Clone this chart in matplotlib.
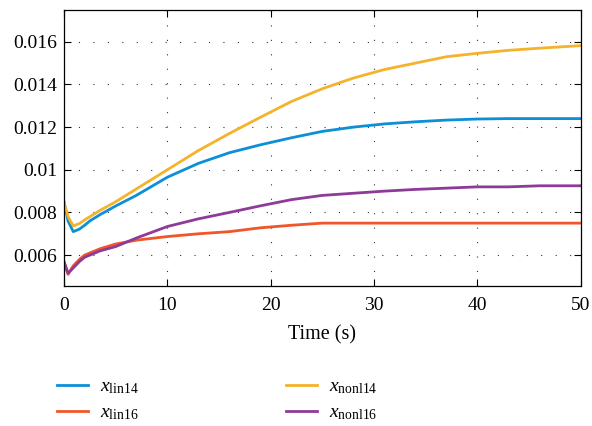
import matplotlib
matplotlib.use('Agg')
import matplotlib.pyplot as plt

plt.rcParams['font.family'] = ['Liberation Serif', 'DejaVu Serif']
plt.rcParams['mathtext.fontset'] = 'custom'
plt.rcParams['mathtext.rm'] = 'Liberation Serif'
plt.rcParams['mathtext.it'] = 'Liberation Serif:italic'

# time points (s)
t = [0, 0.4, 0.9, 1.5, 2.0, 2.5, 3.5, 5, 7, 10, 13, 16, 19, 22, 25, 28, 31, 34, 37, 40, 43, 46, 50]

x_lin14 = [0.0085, 0.0076, 0.0071, 0.00722, 0.0074, 0.0076, 0.0079, 0.0083, 0.0088, 0.00965, 0.0103, 0.0108,
           0.01117, 0.0115, 0.0118, 0.0120, 0.01215, 0.01225, 0.01233, 0.01238, 0.0124, 0.0124, 0.0124]
x_lin16 = [0.0057, 0.0051, 0.0055, 0.0058, 0.0060, 0.0061, 0.0063, 0.00652, 0.0067, 0.00687, 0.0070, 0.0071,
           0.00728, 0.0074, 0.0075, 0.0075, 0.0075, 0.0075, 0.0075, 0.0075, 0.0075, 0.0075, 0.0075]
x_nonl14 = [0.0085, 0.0078, 0.00737, 0.00748, 0.00765, 0.0078, 0.0081, 0.0085, 0.0091, 0.0100, 0.0109, 0.0117,
            0.01246, 0.0132, 0.0138, 0.0143, 0.0147, 0.0150, 0.0153, 0.01546, 0.0156, 0.0157, 0.01582]
x_nonl16 = [0.0057, 0.00515, 0.0054, 0.0057, 0.0059, 0.0060, 0.0062, 0.0064, 0.0068, 0.00734, 0.0077, 0.0080,
            0.00831, 0.0086, 0.0088, 0.0089, 0.0090, 0.00908, 0.00914, 0.0092, 0.0092, 0.00925, 0.00925]

yticks = [0.006, 0.008, 0.010, 0.012, 0.014, 0.016]
ytick_labels = ['0.006', '0.008', '0.01', '0.012', '0.014', '0.016']
xticks = [0, 10, 20, 30, 40, 50]

fig = plt.figure(figsize=(5.92, 4.26), dpi=100)
ax = fig.add_axes([0.108, 0.329, 0.873, 0.648])

lw = 2.0
ax.plot(t, x_lin14, color='#0B8FD6', lw=lw, label=r'$x_{\mathrm{lin14}}$')
ax.plot(t, x_lin16, color='#F0562A', lw=lw, label=r'$x_{\mathrm{lin16}}$')
ax.plot(t, x_nonl14, color='#F5B22B', lw=lw, label=r'$x_{\mathrm{nonl14}}$')
ax.plot(t, x_nonl16, color='#8E3A98', lw=lw, label=r'$x_{\mathrm{nonl16}}$')

ax.set_xlim(0, 50)
ax.set_ylim(0.00456, 0.0175)
ax.set_xticks(xticks)
ax.set_yticks(yticks)
ax.set_yticklabels(ytick_labels)
ax.tick_params(direction='in', top=True, right=True, labelsize=14, length=5, pad=5)
ax.tick_params(axis='x', pad=8)
ax.grid(True, color='#333333', linestyle=(0, (1, 12)), linewidth=0.8)
for s in ax.spines.values():
    s.set_linewidth(0.9)
ax.set_xlabel('Time (s)', fontsize=14.5, labelpad=8)

ax.legend(loc='upper left', bbox_to_anchor=(-0.0135, -0.333), ncol=2, frameon=False,
          fontsize=14, handlelength=1.6, handletextpad=0.6, columnspacing=7.6,
          labelspacing=0.4, borderpad=0, borderaxespad=0)

fig.savefig('out.png', dpi=100)
